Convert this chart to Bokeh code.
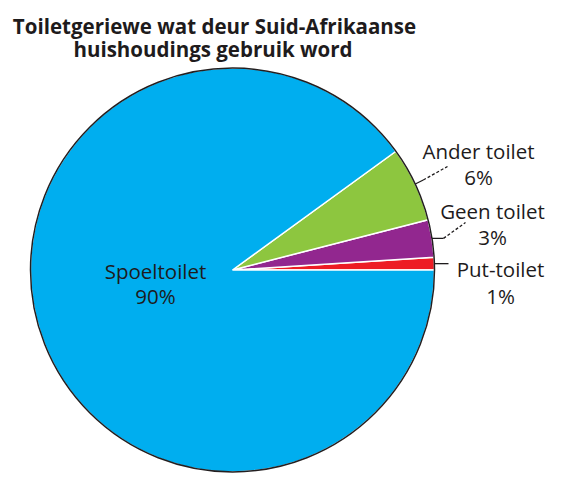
from bokeh.plotting import figure
from bokeh.models import Range1d, ColumnDataSource
from bokeh.core.properties import value
from bokeh.embed import file_html
from bokeh.resources import INLINE
import numpy as np

# ---- data ----
categories = ["Put-toilet", "Geen toilet", "Ander toilet", "Spoeltoilet"]
percent = [1, 3, 6, 90]
colors = ["#ED1C24", "#92278F", "#8DC63F", "#00AEEF"]
title_lines = ["Toiletgeriewe wat deur Suid-Afrikaanse", "huishoudings gebruik word"]

W, H = 569, 493
p = figure(width=W, height=H, x_range=Range1d(0, W), y_range=Range1d(0, H),
           output_backend="svg", toolbar_location=None, min_border=0)
p.axis.visible = False
p.grid.visible = False
p.outline_line_color = None
p.background_fill_color = "white"
p.border_fill_color = "white"

def Y(py):
    return H - py

cx, cy, r = 232, Y(269.5), 202
frac = np.array(percent, dtype=float) / sum(percent)
ends = np.cumsum(frac) * 2 * np.pi
starts = ends - frac * 2 * np.pi
mids = (starts + ends) / 2

src = ColumnDataSource(dict(start=starts, end=ends, color=colors, cat=categories))
p.wedge(x=cx, y=cy, radius=r, start_angle="start", end_angle="end", fill_color="color",
        line_color="white", line_width=1.5, source=src)
p.arc(x=cx, y=cy, radius=r, start_angle=0, end_angle=2 * np.pi,
      line_color="#231F20", line_width=1.5)

ink = "#1E1B1C"
# leader lines
def edge(i):
    return cx + r * np.cos(mids[i]), cy + r * np.sin(mids[i])

# Ander toilet (index 2)
x0, y0 = edge(2)
p.line([x0, x0 + 8], [y0, y0 + 4], line_color=ink, line_width=1.3)
p.line([x0 + 8, 447], [y0 + 4, Y(166)], line_color=ink, line_width=1.3, line_dash="3 2")
# Geen toilet (index 1)
x0, y0 = edge(1)
p.line([x0, 443], [y0, y0], line_color=ink, line_width=1.3)
p.line([443, 465], [y0, Y(222)], line_color=ink, line_width=1.3, line_dash="3 2")
# Put-toilet (index 0)
x0, y0 = edge(0)
p.line([x0, 448], [y0, y0], line_color=ink, line_width=1.3)

lab_font = value("Open Sans")
lab_size = value("20.5px")
label_pos = {
    "Spoeltoilet": (155, 270.5, 295),
    "Ander toilet": (478, 150.7, 176.7),
    "Geen toilet": (492, 210.7, 236.7),
    "Put-toilet": (500, 268.3, 295),
}
for cat, pct in zip(categories, percent):
    x, b1, b2 = label_pos[cat]
    p.text(x=[x, x], y=[Y(b1), Y(b2)], text=[cat, f"{pct}%"], text_font=lab_font,
           text_font_size=lab_size, text_color=ink, text_align="center",
           text_baseline="alphabetic")

p.text(x=[214, 212.5], y=[Y(25), Y(48)], text=title_lines, text_font=value("Open Sans"),
       text_font_size=value("20.5px"), text_font_style="bold", text_color=ink,
       text_align="center", text_baseline="alphabetic")

open("out.html", "w").write(file_html(p, INLINE))
